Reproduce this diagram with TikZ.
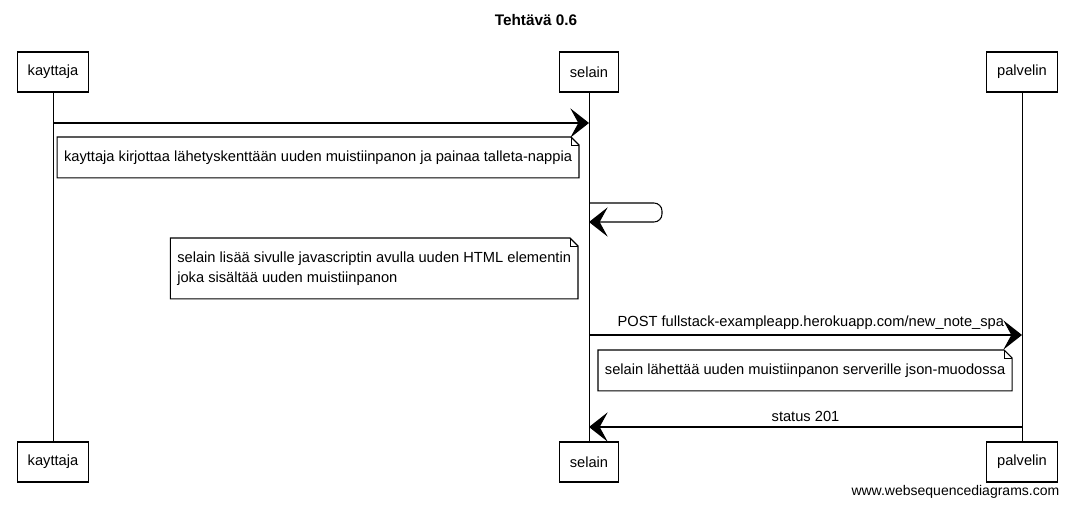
\documentclass[tikz,border=0pt]{standalone}
\usepackage{fontspec}
\setmainfont{Liberation Sans}
\usetikzlibrary{arrows.meta}
\tikzset {>=Stealth}

% participant boxes, messages and notes
\tikzset{
  actor/.style={draw, thick, minimum height=30pt, inner xsep=8pt, font=\fontsize{11}{13}\selectfont},
  life/.style={semithick},
  msg/.style={thick, -{Stealth[length=14pt,width=22pt,inset=6pt]}},
  notetext/.style={align=left, inner xsep=5pt, inner ysep=10pt, font=\fontsize{11}{15}\selectfont},
  lbl/.style={font=\fontsize{11}{13}\selectfont}
}

% outline with folded corner round a note node
\newcommand{\foldnote}[1]{%
  \draw [thick] (#1.north west) -- ([xshift=-6pt]#1.north east)
    -- ([yshift=-6pt]#1.north east) -- (#1.south east)
    -- (#1.south west) -- cycle;
  \draw [semithick] ([xshift=-6pt]#1.north east) -- ([xshift=-6pt,yshift=-6pt]#1.north east)
    -- ([yshift=-6pt]#1.north east);
}

\begin{document}
\begin{tikzpicture}[x=0.75pt,y=-0.75pt]
\useasboundingbox (0,0) rectangle (1072,507);

% Title
\node [font=\bfseries\fontsize{11.5}{13}\selectfont] (title) at (536,20) {Tehtävä 0.6};

% Participants, top and bottom
\node [actor] (kt) at (53,72) {kayttaja};
\node [actor] (sl) at (589,72) {selain};
\node [actor] (pv) at (1022,72) {palvelin};
\node [actor] (kt2) at (53,462) {kayttaja};
\node [actor] (sl2) at (589,462) {selain};
\node [actor] (pv2) at (1022,462) {palvelin};

% Lifelines
\draw [life] (kt) -- (kt2);
\draw [life] (sl) -- (sl2);
\draw [life] (pv) -- (pv2);

% Message points on the lifelines
\coordinate (m1a) at (kt |- 0,123);
\coordinate (m1b) at (sl |- 0,123);
\coordinate (m2a) at (sl |- 0,203);
\coordinate (m2b) at (sl |- 0,222);
\coordinate (m3a) at (sl |- 0,335);
\coordinate (m3b) at (pv |- 0,335);
\coordinate (m4a) at (pv |- 0,427);
\coordinate (m4b) at (sl |- 0,427);

% kayttaja -> selain
\draw [msg] (m1a) -- (m1b);
\node [notetext, anchor=north east] (n1) at (579,137)
  {kayttaja kirjottaa lähetyskenttään uuden muistiinpanon ja painaa talleta-nappia};
\foldnote{n1}

% selain -> selain
\draw [msg, rounded corners=6pt] (m2a) -- ++(73,0) |- (m2b);
\node [notetext, anchor=north east] (n2) at (578,238)
  {selain lisää sivulle javascriptin avulla uuden HTML elementin\\joka sisältää uuden muistiinpanon};
\foldnote{n2}

% selain -> palvelin
\draw [msg] (m3a) -- node[lbl, above, xshift=4pt] {POST fullstack-exampleapp.herokuapp.com/new\_note\_spa} (m3b);
\node [notetext, anchor=north west] (n3) at (598,350)
  {selain lähettää uuden muistiinpanon serverille json-muodossa};
\foldnote{n3}

% palvelin -> selain
\draw [msg] (m4a) -- node[lbl, above] {status 201} (m4b);

% Watermark
\node [anchor=east, font=\fontsize{10.5}{12}\selectfont] (wm) at (1064,492) {www.websequencediagrams.com};
\end{tikzpicture}
\end{document}
